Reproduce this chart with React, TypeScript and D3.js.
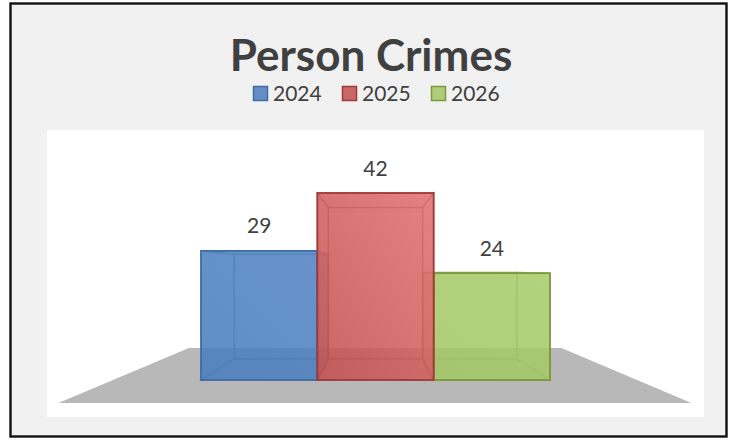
import React, { useEffect, useRef } from 'react';
import * as d3 from 'd3';

const TITLE = 'Person Crimes';
const years = ['2024', '2025', '2026'];
const crimes = [29, 42, 24];
const fills = ['#4a7dbd', '#c24f50', '#a3c765'];
const highlights = ['#4f82c2', '#e46f6f', '#a7cb6a'];
const edges = ['#3f6ea6', '#9c3b3c', '#7a9a3c'];
const drawOrder = [0, 2, 1];

const App: React.FC = () => {
  const svgRef = useRef<SVGSVGElement>(null);

  useEffect(() => {
    if (!svgRef.current) return;
    const svg = d3.select(svgRef.current);
    svg.selectAll('*').remove();

    const font = 'Lato, "Open Sans", sans-serif';

    // frame + plot area
    svg.append('rect').attr('x', 10.5).attr('y', 3.5).attr('width', 716).attr('height', 433)
      .attr('fill', '#f1f1f1').attr('stroke', '#111').attr('stroke-width', 2.4);
    svg.append('rect').attr('x', 47).attr('y', 130).attr('width', 657).attr('height', 287)
      .attr('fill', '#fff');

    svg.append('text').attr('x', 371).attr('y', 71).attr('text-anchor', 'middle')
      .attr('font-family', font).attr('font-weight', 700).attr('font-size', 44)
      .attr('fill', '#404040').text(TITLE);

    // legend
    const legendX = d3.scalePoint<string>().domain(years).range([253, 431]);
    const legend = svg.append('g').selectAll('g').data(years).enter().append('g')
      .attr('transform', d => `translate(${legendX(d)},86)`);
    legend.append('rect').attr('x', 0.5).attr('y', 0.5).attr('width', 14).attr('height', 14)
      .attr('fill', (d, i) => fills[i]).attr('fill-opacity', 0.85)
      .attr('stroke', (d, i) => edges[i]).attr('stroke-width', 1.5);
    legend.append('text').attr('x', 20).attr('y', 14.5)
      .attr('font-family', font).attr('font-size', 21).attr('fill', '#404040').text(d => d);

    // front plane of the box
    const x = d3.scaleBand<string>().domain(years).range([201, 550]);
    const y = d3.scaleLinear().domain([0, 42]).range([380, 193]);

    // perspective towards the vanishing point
    const vx = 375.5;
    const vy = 269.5;
    const depth = 0.81;
    const project = (px: number, py: number, s: number): [number, number] => [
      vx + (px - vx) * s,
      vy + (py - vy) * s,
    ];
    const poly = d3.line();

    // floor
    svg.append('path')
      .attr('d', poly([
        project(113, y(0), 1.208),
        project(637, y(0), 1.208),
        project(637, y(0), 0.711),
        project(113, y(0), 0.711),
      ])! + 'Z')
      .attr('fill', '#b8b8b8');

    const defs = svg.append('defs');
    years.forEach((yr, i) => {
      const g = defs.append('linearGradient').attr('id', `front${yr}`)
        .attr('x1', 0).attr('y1', 1).attr('x2', 1).attr('y2', 0);
      g.append('stop').attr('offset', 0).attr('stop-color', fills[i]).attr('stop-opacity', 0.82);
      g.append('stop').attr('offset', 1).attr('stop-color', highlights[i]).attr('stop-opacity', 0.8);
    });

    // bars: back and side walls first, then the front face
    drawOrder.forEach(i => {
      const g = svg.append('g');
      const x0 = x(years[i])!;
      const x1 = x0 + x.bandwidth();
      const top = y(crimes[i]);
      const base = y(0);
      const fl = project(x0, top, 1);
      const fr = project(x1, top, 1);
      const nl = project(x0, base, 1);
      const nr = project(x1, base, 1);
      const bl = project(x0, top, depth);
      const br = project(x1, top, depth);
      const dl = project(x0, base, depth);
      const dr = project(x1, base, depth);
      const faces = [
        [bl, br, dr, dl],
        [fl, bl, dl, nl],
        [fr, br, dr, nr],
        [fl, fr, br, bl],
        [nl, nr, dr, dl],
      ];
      g.selectAll('path.wall').data(faces).enter().append('path')
        .attr('class', 'wall')
        .attr('d', f => poly(f)! + 'Z')
        .attr('fill', fills[i]).attr('fill-opacity', 0.3)
        .attr('stroke', edges[i]).attr('stroke-opacity', 0.45).attr('stroke-width', 1.4);
      g.append('rect')
        .attr('x', x0).attr('y', top)
        .attr('width', x1 - x0).attr('height', base - top)
        .attr('fill', `url(#front${years[i]})`)
        .attr('stroke', edges[i]).attr('stroke-width', 1.8);
    });

    // data labels
    svg.append('g').selectAll('text').data(crimes).enter().append('text')
      .attr('x', (d, i) => x(years[i])! + x.bandwidth() / 2)
      .attr('y', d => y(d) - 17.5)
      .attr('text-anchor', 'middle')
      .attr('font-family', font).attr('font-size', 21).attr('fill', '#404040')
      .text(d => d);
  }, []);

  return (
    <div style={{ position: 'absolute', left: 0, top: 0 }}>
      <svg ref={svgRef} width={729} height={442} style={{ display: 'block' }}></svg>
    </div>
  );
};

export default App;
